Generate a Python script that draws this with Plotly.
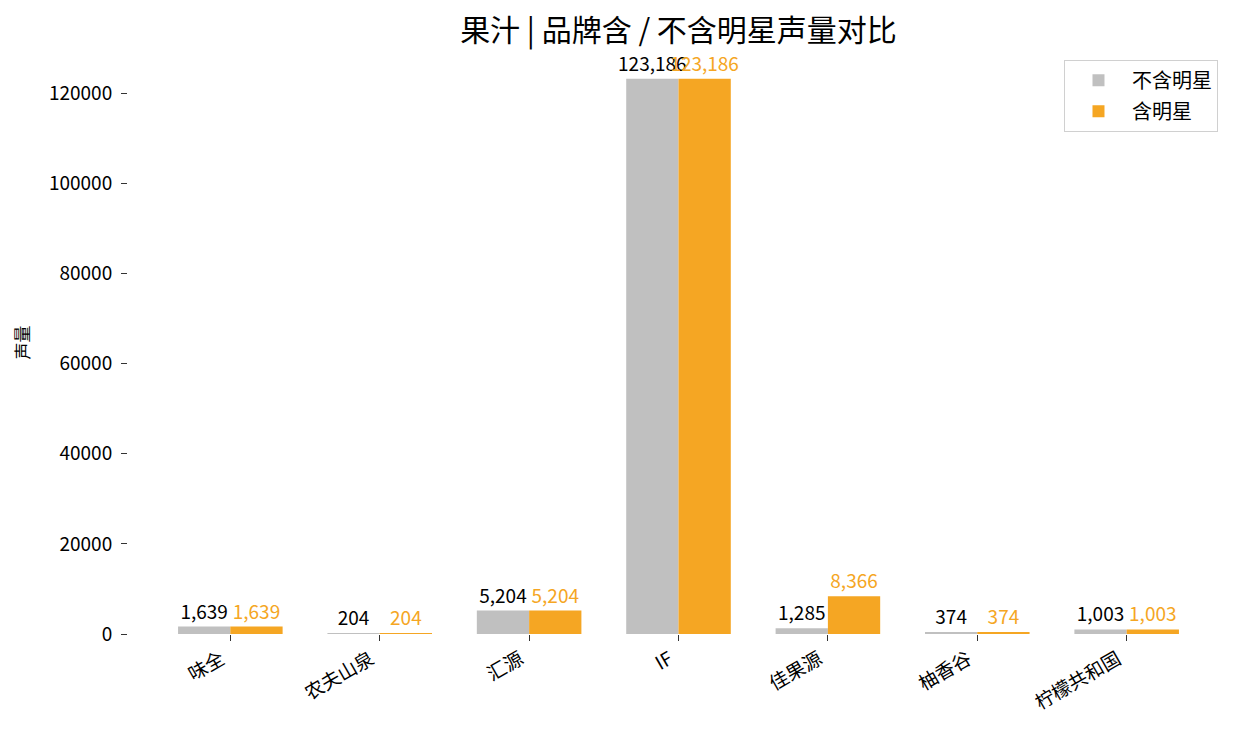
import plotly.graph_objects as go

categories = ["味全", "农夫山泉", "汇源", "IF", "佳果源", "柚香谷", "柠檬共和国"]
no_star = [1639, 204, 5204, 123186, 1285, 374, 1003]
with_star = [1639, 204, 5204, 123186, 8366, 374, 1003]
series_names = ["不含明星", "含明星"]
y_ticks = [0, 20000, 40000, 60000, 80000, 100000, 120000]

FONT = "Noto Sans CJK SC"
GRAY = "#c0c0c0"
ORANGE = "#f5a623"
FS = 19

fig = go.Figure()
fig.add_trace(go.Bar(
    x=categories, y=no_star, name=series_names[0], legendgroup="a",
    marker=dict(color=GRAY, line=dict(width=0)),
    text=[f"{v:,}" for v in no_star], textposition="outside", constraintext="none",
    textfont=dict(color="black", size=FS, family=FONT),
    cliponaxis=False,
))
fig.add_trace(go.Bar(
    x=categories, y=with_star, name=series_names[1], legendgroup="b",
    marker=dict(color=ORANGE, line=dict(width=0)),
    text=[f"{v:,}" for v in with_star], textposition="outside", constraintext="none",
    textfont=dict(color=ORANGE, size=FS, family=FONT),
    cliponaxis=False,
))

ymax = max(max(no_star), max(with_star)) * 1.05

W, H = 1235, 726
fig.update_layout(
    width=W, height=H,
    barmode="group", bargap=0.3, bargroupgap=0,
    plot_bgcolor="white", paper_bgcolor="white",
    font=dict(family=FONT, size=FS, color="black"),
    margin=dict(l=120, r=14, t=43, b=100),
    title=dict(text="果汁 | 品牌含 / 不含明星声量对比", x=(670.5 / W), xanchor="center",
               y=1 - 22 / H, yanchor="middle", font=dict(size=30, family=FONT)),
    showlegend=True,
    legend=dict(x=0.99, y=0.985, xanchor="right", yanchor="top",
                bgcolor="white", bordercolor="#d0d0d0", borderwidth=1,
                itemwidth=57,
                font=dict(size=20, family=FONT), tracegroupgap=2),
)
fig.update_xaxes(
    range=[-0.685, 6.685], showgrid=False, showline=False, zeroline=False,
    automargin=False,
    ticks="outside", ticklen=6, tickwidth=1.2, tickcolor="#333",
    tickangle=-30, ticklabelshift=-9, tickfont=dict(size=FS, family=FONT),
)
fig.update_yaxes(
    range=[0, ymax], showgrid=False, showline=False, zeroline=False,
    automargin=False,
    tickvals=y_ticks, ticktext=[str(v) for v in y_ticks],
    ticks="outside", ticklen=6, tickwidth=1.2, tickcolor="#333",
    ticklabelstandoff=5,
    tickfont=dict(size=FS, family=FONT),
    title=dict(text="声量", font=dict(size=17, family=FONT), standoff=14),
)

fig.write_html("out.html")
